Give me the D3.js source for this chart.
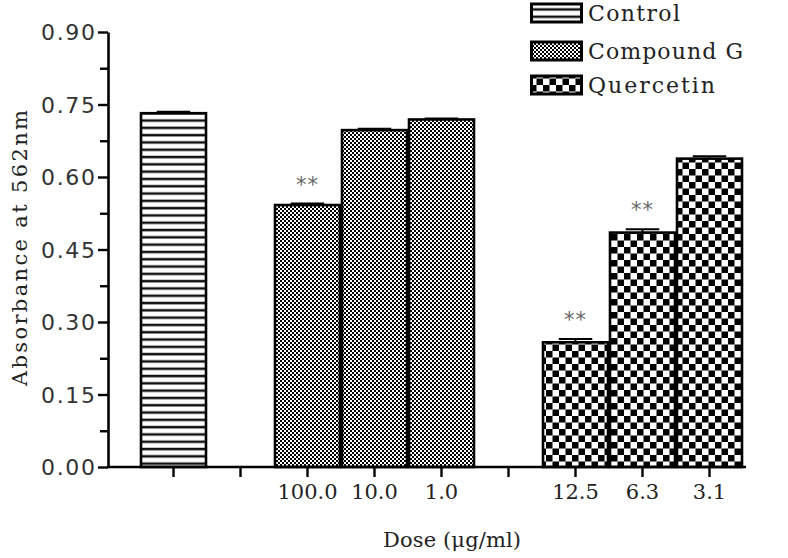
<!DOCTYPE html>
<html><head><meta charset="utf-8">
<script src="https://cdn.jsdelivr.net/npm/d3@7"></script>
<style>body{margin:0;background:#fff}</style>
</head><body>
<svg id="c" width="788" height="558"></svg>
<script>
// ---- data ----
const groups = ["Control", "Compound G", "Quercetin"];
const slotKeys = ["ctl", "gap1", "g100", "g10", "g1", "gap2", "q12.5", "q6.3", "q3.1"];
const doseLabels = ["", "", "100.0", "10.0", "1.0", "", "12.5", "6.3", "3.1"];
const barSlots = ["ctl", "g100", "g10", "g1", "q12.5", "q6.3", "q3.1"];
const barGroups = ["Control", "Compound G", "Compound G", "Compound G", "Quercetin", "Quercetin", "Quercetin"];
const barValues = [0.732, 0.542, 0.697, 0.719, 0.258, 0.485, 0.638];
const barErrors = [0.003, 0.003, 0.003, 0.002, 0.007, 0.007, 0.005];
const starred = [false, true, false, false, true, true, false];
const yTicks = [0, 0.15, 0.30, 0.45, 0.60, 0.75, 0.90];
const yMinorTicks = [0.075, 0.225, 0.375, 0.525, 0.675, 0.825];

// ---- chart ----
const svg = d3.select("#c");
const x = d3.scaleBand().domain(slotKeys).range([140, 743]).padding(0);
const y = d3.scaleLinear().domain([0, 0.9]).range([467, 32]);
const patId = d3.scaleOrdinal().domain(groups).range(["pCtl", "pCG", "pQ"]);

const defs = svg.append("defs");
const p1 = defs.append("pattern").attr("id", "pCtl").attr("patternUnits", "userSpaceOnUse")
  .attr("width", 8).attr("height", 7.3);
p1.append("rect").attr("width", 8).attr("height", 7.3).attr("fill", "#fff");
p1.append("rect").attr("y", 2.5).attr("width", 8).attr("height", 2.5).attr("fill", "#111");
const p2 = defs.append("pattern").attr("id", "pCG").attr("patternUnits", "userSpaceOnUse")
  .attr("width", 4).attr("height", 4);
p2.append("rect").attr("width", 4).attr("height", 4).attr("fill", "#fff");
p2.append("rect").attr("width", 2).attr("height", 2).attr("fill", "#000");
p2.append("rect").attr("x", 2).attr("y", 2).attr("width", 2).attr("height", 2).attr("fill", "#000");
const p3 = defs.append("pattern").attr("id", "pQ").attr("patternUnits", "userSpaceOnUse")
  .attr("width", 13).attr("height", 13);
p3.append("rect").attr("width", 13).attr("height", 13).attr("fill", "#fff");
p3.append("rect").attr("width", 6.5).attr("height", 6.5).attr("fill", "#000");
p3.append("rect").attr("x", 6.5).attr("y", 6.5).attr("width", 6.5).attr("height", 6.5).attr("fill", "#000");

const bars = barSlots.map((s, i) => ({slot: s, g: barGroups[i], v: barValues[i], e: barErrors[i], star: starred[i]}));

svg.append("g").selectAll("rect").data(bars).join("rect")
  .attr("x", d => x(d.slot) + 1)
  .attr("y", d => y(d.v))
  .attr("width", x.bandwidth() - 2)
  .attr("height", d => y(0) - y(d.v))
  .attr("fill", d => `url(#${patId(d.g)})`)
  .attr("stroke", "#000").attr("stroke-width", 2.6);

const eb = svg.append("g").attr("stroke", "#000").attr("stroke-width", 2);
eb.selectAll("line.v").data(bars).join("line").attr("class", "v")
  .attr("x1", d => x(d.slot) + x.bandwidth() / 2).attr("x2", d => x(d.slot) + x.bandwidth() / 2)
  .attr("y1", d => y(d.v)).attr("y2", d => y(d.v + d.e));
eb.selectAll("line.c").data(bars).join("line").attr("class", "c")
  .attr("x1", d => x(d.slot) + x.bandwidth() * 0.25).attr("x2", d => x(d.slot) + x.bandwidth() * 0.75)
  .attr("y1", d => y(d.v + d.e)).attr("y2", d => y(d.v + d.e));

svg.append("g").selectAll("text").data(bars.filter(d => d.star)).join("text")
  .attr("x", d => x(d.slot) + x.bandwidth() / 2)
  .attr("y", d => y(d.v + d.e) - 12)
  .attr("text-anchor", "middle")
  .attr("font-family", "DejaVu Sans").attr("font-size", 21).attr("fill", "#666")
  .attr("letter-spacing", 1)
  .text("**");

// y axis
const yAxis = svg.append("g").attr("transform", "translate(108,0)")
  .call(d3.axisLeft(y).tickValues(yTicks).tickFormat(d3.format(".2f")).tickSize(10).tickSizeOuter(0));
svg.append("g").attr("transform", "translate(108,0)")
  .call(d3.axisLeft(y).tickValues(yMinorTicks).tickFormat("").tickSize(8).tickSizeOuter(0))
  .call(g => g.select(".domain").remove());
svg.selectAll(".tick line").attr("stroke", "#000").attr("stroke-width", 2.4);
yAxis.select(".domain").attr("stroke", "#000").attr("stroke-width", 2.6);
yAxis.selectAll(".tick text")
  .attr("font-family", "DejaVu Sans").attr("font-size", 22).attr("fill", "#333")
  .attr("x", -13).attr("dy", "0.36em")
  .attr("textLength", 54).attr("lengthAdjust", "spacing");

// x axis
const xAxis = svg.append("g").attr("transform", "translate(0,467)")
  .call(d3.axisBottom(x).tickFormat((d, i) => doseLabels[i]).tickSize(10).tickSizeOuter(0));
xAxis.select(".domain").attr("d", "M107,0H746").attr("stroke", "#000").attr("stroke-width", 2.6);
xAxis.selectAll(".tick line").attr("stroke", "#000").attr("stroke-width", 2.4);
xAxis.selectAll(".tick text")
  .attr("font-family", "DejaVu Serif").attr("font-size", 21).attr("fill", "#222")
  .attr("y", 17).attr("dy", "0.71em");

// axis titles
svg.append("text").attr("transform", "translate(27,248) rotate(-90)")
  .attr("text-anchor", "middle").attr("font-family", "DejaVu Serif").attr("font-size", 21)
  .attr("fill", "#222").attr("textLength", 276).attr("lengthAdjust", "spacing")
  .text("Absorbance at 562nm");
svg.append("text").attr("x", 452).attr("y", 547)
  .attr("text-anchor", "middle").attr("font-family", "DejaVu Serif").attr("font-size", 21)
  .attr("fill", "#222").attr("textLength", 138).attr("lengthAdjust", "spacing")
  .text("Dose (μg/ml)");

// legend
const legendY = [13, 51, 85];
const legendLen = [92, 155, 127];
const lg = svg.append("g").selectAll("g").data(groups).join("g")
  .attr("transform", (d, i) => `translate(530,${legendY[i]})`);
lg.append("rect").attr("x", 1.5).attr("y", -9).attr("width", 50).attr("height", 18)
  .attr("fill", d => `url(#${patId(d)})`).attr("stroke", "#000").attr("stroke-width", 3);
lg.append("text").attr("x", 58).attr("dy", "0.36em")
  .attr("font-family", "DejaVu Serif").attr("font-size", 22).attr("fill", "#222")
  .attr("textLength", (d, i) => legendLen[i]).attr("lengthAdjust", "spacing")
  .text(d => d);
</script>
</body></html>
